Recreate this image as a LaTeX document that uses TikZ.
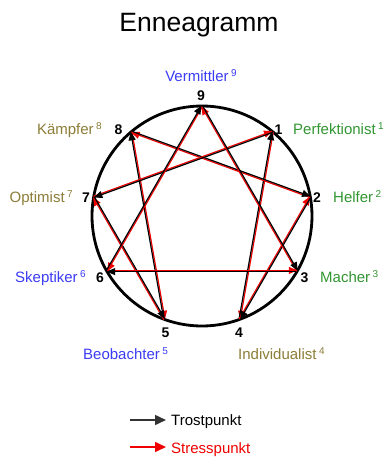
\documentclass[tikz,border=0pt]{standalone}
\usepackage{fontspec}
\setmainfont{Liberation Sans}
\usetikzlibrary{arrows.meta,calc}
\definecolor{lblue}{RGB}{60,60,245}
\definecolor{lgreen}{RGB}{50,150,50}
\definecolor{lolive}{RGB}{140,125,55}
\definecolor{sred}{RGB}{240,0,0}
\newcommand\supn[1]{\hspace{2.5pt}\raisebox{5pt}{\fontsize{10}{12}\selectfont #1}}
\newcommand\epair[2]{%
  \draw[stress] ($(p#1)!0.6pt!90:(p#2)$) -- ($(p#2)!0.6pt!-90:(p#1)$);
  \draw[trost] ($(p#2)!0.6pt!90:(p#1)$) -- ($(p#1)!0.6pt!-90:(p#2)$);
}
\begin{document}
\begin{tikzpicture}[x=1pt,y=-1pt,
  trost/.style={black, line width=1.2pt, -{Triangle[length=8.5pt,width=7pt]}},
  stress/.style={sred, line width=1.2pt, -{Triangle[length=8.5pt,width=7pt]}},
  num/.style={font=\fontsize{14}{16}\selectfont\bfseries, inner sep=0pt, anchor=base},
  lbl/.style={font=\fontsize{15}{18}\selectfont, inner sep=0pt},
  legarrow/.style={line width=1.5pt, -{Triangle[length=11pt,width=10pt]}}]
\useasboundingbox (0,0) rectangle (387,459);
\fill[white] (0,0) rectangle (387,459);
\node[font=\fontsize{26.5}{30}\selectfont, inner sep=0pt, anchor=base] (title) at (199,31) {Enneagramm};
\coordinate (C) at (202,216);
\foreach \k in {1,...,9} {\coordinate (p\k) at ($(C)+({40*\k-90}:110)$);}
\draw[line width=2.8pt] (C) circle[radius=110];
\epair{1}{4}
\epair{4}{2}
\epair{2}{8}
\epair{8}{5}
\epair{5}{7}
\epair{7}{1}
\epair{9}{6}
\epair{6}{3}
\epair{3}{9}
% numbers
\node[num] (n9) at (201,100) {9};
\node[num] (n1) at (278.5,134) {1};
\node[num] (n2) at (317,202) {2};
\node[num] (n3) at (304.5,282) {3};
\node[num] (n4) at (239,337) {4};
\node[num] (n5) at (165.5,337) {5};
\node[num] (n6) at (100,282) {6};
\node[num] (n7) at (86,202) {7};
\node[num] (n8) at (118.5,134) {8};
% labels
\node[lbl, text=lblue, anchor=base] (l9) at (201,81) {Vermittler\supn{9}};
\node[lbl, text=lgreen, anchor=base west] (l1) at (293,134) {Perfektionist\supn{1}};
\node[lbl, text=lgreen, anchor=base west] (l2) at (333,202) {Helfer\supn{2}};
\node[lbl, text=lgreen, anchor=base west] (l3) at (320,282) {Macher\supn{3}};
\node[lbl, text=lolive, anchor=base west] (l4) at (238,359) {Individualist\supn{4}};
\node[lbl, text=lblue, anchor=base west] (l5) at (83,359) {Beobachter\supn{5}};
\node[lbl, text=lblue, anchor=base east] (l6) at (86,282) {Skeptiker\supn{6}};
\node[lbl, text=lolive, anchor=base east] (l7) at (73,202) {Optimist\supn{7}};
\node[lbl, text=lolive, anchor=base east] (l8) at (102,134) {Kämpfer\supn{8}};
% legend
\node[lbl, anchor=base west] (tl) at (171,425) {Trostpunkt};
\node[lbl, text=sred, anchor=base west] (sl) at (171,453) {Stresspunkt};
\coordinate (ta) at (130,420);
\coordinate (tb) at (166,420);
\coordinate (sa) at (130,447);
\coordinate (sb) at (166,447);
\draw[legarrow, black!80] (ta) -- (tb);
\draw[legarrow, sred] (sa) -- (sb);
\end{tikzpicture}
\end{document}
